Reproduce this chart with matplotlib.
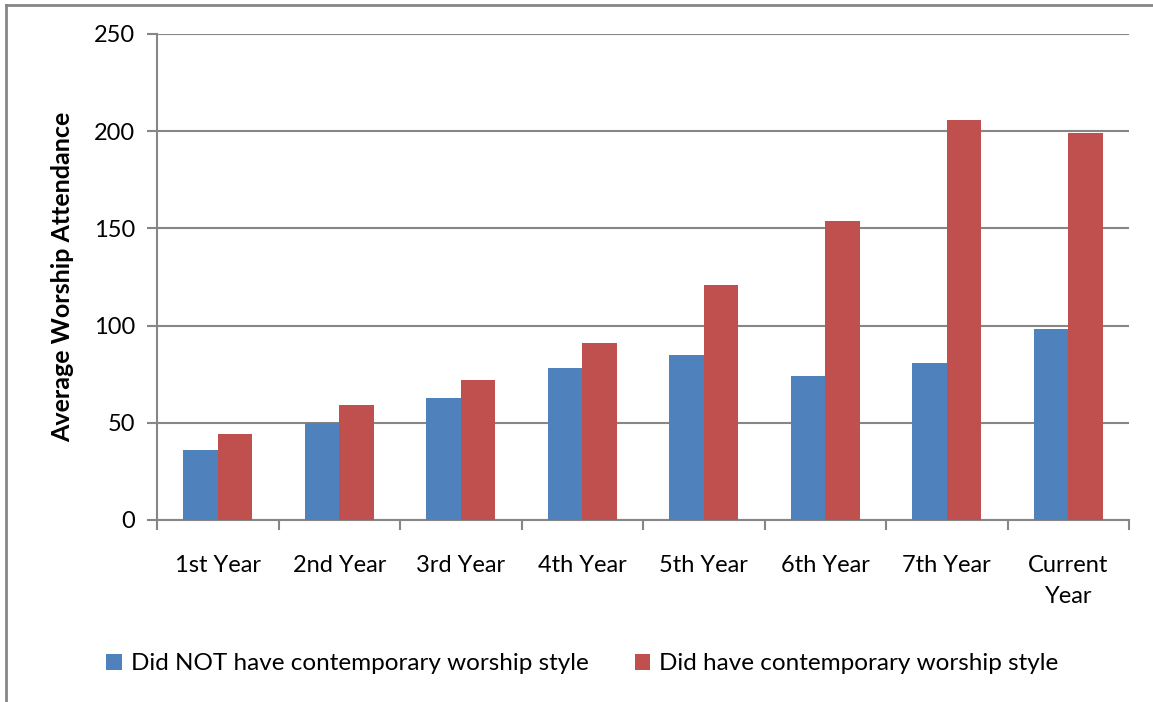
import matplotlib
matplotlib.use("Agg")
import matplotlib.pyplot as plt
import numpy as np
from matplotlib.lines import Line2D

categories = ["1st Year", "2nd Year", "3rd Year", "4th Year", "5th Year",
              "6th Year", "7th Year", "Current\nYear"]
not_contemporary = [36, 50, 63, 78, 85, 74, 81, 98]
contemporary = [44, 59, 72, 91, 121, 154, 206, 199]
series_labels = ["Did NOT have contemporary worship style",
                 "Did have contemporary worship style"]
y_ticks = [0, 50, 100, 150, 200, 250]

plt.rcParams['font.family'] = ['Lato', 'DejaVu Sans']

W, H = 1153, 702
fig = plt.figure(figsize=(W / 100, H / 100), dpi=100)
ax = fig.add_axes([157 / W, 1 - 520 / H, (1129 - 157) / W, (520 - 34) / H])

grid_c = "#868686"
x = np.arange(len(categories))
bw = 1 / 3.5
ax.bar(x - bw / 2, not_contemporary, width=bw, color="#4F81BD", zorder=3,
       label=series_labels[0])
ax.bar(x + bw / 2, contemporary, width=bw, color="#C0504D", zorder=3,
       label=series_labels[1])

ax.set_xlim(-0.5, len(categories) - 0.5)
ax.set_ylim(0, 250)
ax.set_yticks(y_ticks)
ax.set_yticklabels([str(v) for v in y_ticks], fontsize=17)
ax.yaxis.grid(True, color=grid_c, linewidth=1.5, zorder=0)

ax.set_xticks(np.arange(len(categories) + 1) - 0.5)
ax.set_xticklabels([])
ax.set_xticks(x, minor=True)
ax.set_xticklabels(categories, minor=True, fontsize=17, linespacing=1.6)
ax.tick_params(axis='x', which='minor', length=0, pad=25)
ax.tick_params(axis='x', which='major', length=7, color=grid_c, width=1.5)
ax.tick_params(axis='y', length=7, color=grid_c, width=1.5, pad=9)

for s in ["top", "right"]:
    ax.spines[s].set_visible(False)
for s in ["left", "bottom"]:
    ax.spines[s].set_color(grid_c)
    ax.spines[s].set_linewidth(1.5)

ax.set_ylabel("Average Worship Attendance", fontsize=18, fontweight='bold',
              labelpad=14)

leg = fig.legend(loc="center", bbox_to_anchor=(0.505, 1 - 664 / H), ncol=2,
                 frameon=False, fontsize=17.5, handlelength=0.65, handleheight=0.65,
                 handletextpad=0.35, columnspacing=1.9)

# Outer chart border
fig.add_artist(Line2D([6 / W, 6 / W], [0, 1 - 5 / H], color=grid_c,
                      linewidth=2, transform=fig.transFigure))
fig.add_artist(Line2D([6 / W, 1], [1 - 5 / H, 1 - 5 / H], color=grid_c,
                      linewidth=2, transform=fig.transFigure))

fig.savefig("out.png", dpi=100)
